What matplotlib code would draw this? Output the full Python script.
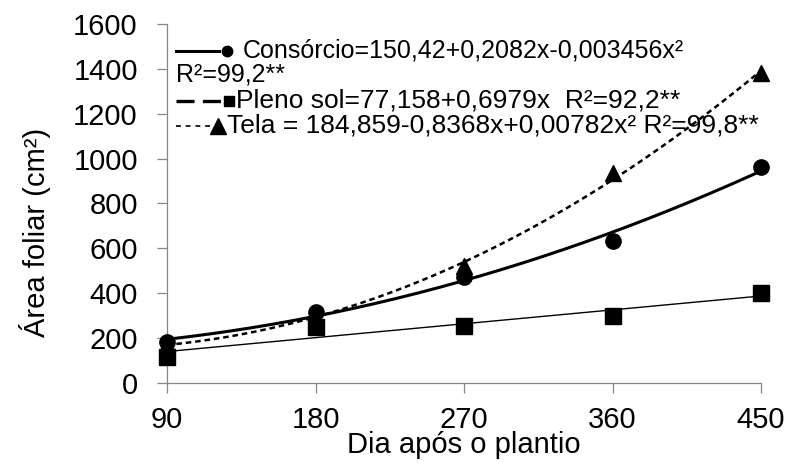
import numpy as np
import matplotlib
matplotlib.use("Agg")
import matplotlib.pyplot as plt

plt.rcParams['font.family'] = ['Liberation Sans', 'DejaVu Sans']
plt.rcParams['lines.scale_dashes'] = False

# days after planting
dias = [90, 180, 270, 360, 450]

# leaf area (cm2)
consorcio = [183, 316, 472, 633, 962]
pleno_sol = [116, 250, 254, 299, 401]
tela = [175, 290, 520, 935, 1380]

eq_consorcio = "Consórcio=150,42+0,2082x-0,003456x²"
r2_consorcio = "R²=99,2**"
eq_pleno = "Pleno sol=77,158+0,6979x  R²=92,2**"
eq_tela = "Tela = 184,859-0,8368x+0,00782x² R²=99,8**"

W, H = 789, 466
fig = plt.figure(figsize=(W / 100, H / 100), dpi=100)
L, R, T, B = 167, 761, 24, 383
ax = fig.add_axes([L / W, (H - B) / H, (R - L) / W, (B - T) / H])

# fitted trend lines
xs = np.linspace(dias[0], dias[-1], 200)
fit_c = np.polyval(np.polyfit(dias, consorcio, 2), xs)
fit_p = np.polyval(np.polyfit(dias, pleno_sol, 1), xs)
fit_t = np.polyval(np.polyfit(dias, tela, 2), xs)

ax.plot(xs, fit_p, color='black', lw=1.0, zorder=2)
ax.plot(xs, fit_c, color='black', lw=2.2, zorder=2)
ax.plot(xs, fit_t, color='black', lw=1.8, dashes=(4.0, 2.8), zorder=2)

ax.plot(dias, pleno_sol, 's', color='black', ms=11.5, ls='none', zorder=3, clip_on=False)
ax.plot(dias, consorcio, 'o', color='black', ms=11, ls='none', zorder=3, clip_on=False)
ax.plot(dias, tela, '^', color='black', ms=11, ls='none', zorder=4, clip_on=False)

ax.set_xlim(90, 450)
ax.set_ylim(0, 1600)
ax.set_xticks(dias)
ax.set_yticks(range(0, 1601, 200))

for s in ['top', 'right']:
    ax.spines[s].set_visible(False)
for s in ['left', 'bottom']:
    ax.spines[s].set_color('#868686')
    ax.spines[s].set_linewidth(0.9)
ax.tick_params(axis='both', direction='out', length=7, width=0.9,
               color='#868686', labelsize=21, labelcolor='black')
ax.tick_params(axis='y', pad=14)
ax.tick_params(axis='x', pad=9.5)

ax.set_xlabel("Dia após o plantio", fontsize=21)
ax.xaxis.set_label_coords(0.5, -0.135)
ax.set_ylabel("Área foliar (cm²)", fontsize=21)
ax.yaxis.set_label_coords(-0.195, 0.42)


# hand-built legend, like the spreadsheet one
def fx(px):
    return (px - L) / (R - L)


def fy(py):
    return (B - py) / (B - T)


tr = ax.transAxes

y1 = fy(51)
ax.plot([fx(176), fx(219)], [y1, y1], color='black', lw=2.2, transform=tr, clip_on=False)
ax.plot([fx(227)], [y1], 'o', color='black', ms=7.5, transform=tr, clip_on=False)
ax.text(fx(243), y1, eq_consorcio, fontsize=18, va='center', ha='left', transform=tr)
ax.text(fx(176), fy(75), r2_consorcio, fontsize=18, va='center', ha='left', transform=tr)

y3 = fy(101)
ax.plot([fx(176), fx(222)], [y3, y3], color='black', lw=2.4, dashes=(13, 6),
        transform=tr, clip_on=False)
ax.plot([fx(229)], [y3], 's', color='black', ms=7, transform=tr, clip_on=False)
ax.text(fx(236), y3, eq_pleno, fontsize=19, va='center', ha='left', transform=tr)

y4 = fy(126)
ax.plot([fx(176), fx(210)], [y4, y4], color='black', lw=1.2, dashes=(3.5, 3.5),
        transform=tr, clip_on=False)
ax.plot([fx(218)], [y4], '^', color='black', ms=11, transform=tr, clip_on=False)
ax.text(fx(227), y4, eq_tela, fontsize=19, va='center', ha='left', transform=tr)

fig.savefig("out.png", dpi=100)
